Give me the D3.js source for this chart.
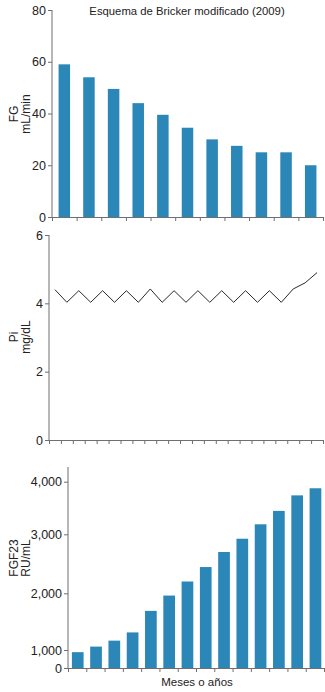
<!DOCTYPE html>
<html>
<head>
<meta charset="utf-8">
<script src="https://cdn.jsdelivr.net/npm/d3@7"></script>
<style>
  body { margin: 0; background: #fff; }
  svg text { font-family: "Liberation Sans", Arial, sans-serif; fill: #222; }
  .axis path, .axis line { stroke: #6f6f6f; }
</style>
</head>
<body>
<svg id="chart" width="325" height="692"></svg>
<script>
// FG panel
const fgValues = [59, 54, 49.5, 44, 39.5, 34.5, 30, 27.5, 25, 25, 20]
const fgTicks = [0, 20, 40, 60, 80]

// Pi panel (zigzag line)
const piValues = [4.4, 4.03, 4.37, 4.03, 4.37, 4.03, 4.37, 4.03, 4.42, 4.03, 4.37,
  4.03, 4.37, 4.03, 4.37, 4.03, 4.37, 4.03, 4.37, 4.03, 4.42, 4.6, 4.9]
const piTicks = [0, 2, 4, 6]

// FGF23 panel
const fgf23Values = [880, 1060, 1165, 1310, 1690, 1960, 2200, 2445, 2700, 2925, 3190, 3445, 3740, 3875]
const fgf23Ticks = [0, 1000, 2000, 3000, 4000]
const fgf23TickLabels = ['0', '1,000', '2,000', '3,000', '4,000']

const barColor = '#2b87b8'
const svg = d3.select('#chart')

svg.append('text')
  .attr('x', 187).attr('y', 15)
  .attr('text-anchor', 'middle')
  .style('font-size', '11.3px')
  .text('Esquema de Bricker modificado (2009)')

function yLabel(cy, a, b) {
  const g = svg.append('g')
  g.append('text')
    .attr('transform', `translate(18,${cy}) rotate(-90)`)
    .attr('text-anchor', 'middle')
    .style('font-size', '12px')
    .text(a)
  g.append('text')
    .attr('transform', `translate(29.5,${cy}) rotate(-90)`)
    .attr('text-anchor', 'middle')
    .style('font-size', '12px')
    .text(b)
}

function xAxis(n, x0, x1, yPos) {
  const s = d3.scaleLinear().domain([0, n]).range([x0, x1])
  svg.append('g')
    .attr('class', 'axis')
    .attr('transform', `translate(0,${yPos})`)
    .call(d3.axisBottom(s).tickValues(d3.range(n + 1)).tickFormat('').tickSize(4).tickSizeOuter(0))
  return s
}

function yAxis(scale, xPos, ticks, labels, top) {
  const g = svg.append('g')
    .attr('class', 'axis')
    .attr('transform', `translate(${xPos},0)`)
    .call(d3.axisLeft(scale).tickValues(ticks).tickSize(4).tickPadding(2).tickSizeOuter(0)
      .tickFormat((d, i) => labels ? labels[i] : d))
  g.select('.domain').remove()
  g.append('line')
    .attr('x1', 0).attr('x2', 0)
    .attr('y1', top).attr('y2', scale(0))
    .attr('stroke', '#6f6f6f')
  g.selectAll('text').style('font-size', '12.5px').attr('fill', '#222')
}

// ---- panel 1 : FG
const y1 = d3.scaleLinear().domain([0, 80]).range([217, 10])
const x1 = d3.scaleBand().domain(d3.range(fgValues.length)).range([52, 323])
const bw1 = 11.5
svg.append('g').selectAll('rect')
  .data(fgValues)
  .enter()
  .append('rect')
    .attr('x', (d, i) => x1(i) + (x1.bandwidth() - bw1) / 2)
    .attr('y', d => y1(d))
    .attr('width', bw1)
    .attr('height', d => y1(0) - y1(d))
    .style('fill', barColor)
xAxis(fgValues.length, 52, 323, 217)
yAxis(y1, 52, fgTicks, null, 10)
yLabel(114, 'FG', 'mL/min')

// ---- panel 2 : Pi
const y2 = d3.scaleLinear().domain([0, 6]).range([440, 235])
const x2 = d3.scaleBand().domain(d3.range(piValues.length)).range([49, 323])
svg.append('path')
  .datum(piValues)
  .attr('fill', 'none')
  .attr('stroke', '#2a2a2a')
  .attr('stroke-width', 1)
  .attr('d', d3.line()
    .x((d, i) => x2(i) + x2.bandwidth() / 2)
    .y(d => y2(d)))
xAxis(piValues.length, 49, 323, 440)
yAxis(y2, 49, piTicks, null, 235)
yLabel(337, 'Pi', 'mg/dL')

// ---- panel 3 : FGF23 (uneven axis spacing as in the source)
const y3 = d3.scaleLinear().domain([0, 1000, 2000, 3000, 4000]).range([668, 650, 593.3, 534.3, 481.7])
const x3 = d3.scaleBand().domain(d3.range(fgf23Values.length)).range([68, 324])
const bw3 = 11.7
svg.append('g').selectAll('rect')
  .data(fgf23Values)
  .enter()
  .append('rect')
    .attr('x', (d, i) => x3(i) + (x3.bandwidth() - bw3) / 2 + 0.6)
    .attr('y', d => y3(d))
    .attr('width', bw3)
    .attr('height', d => y3(0) - y3(d))
    .style('fill', barColor)
xAxis(fgf23Values.length, 68, 324, 668)
yAxis(y3, 68, fgf23Ticks, fgf23TickLabels, 467)
yLabel(558, 'FGF23', 'RU/mL')

svg.append('text')
  .attr('x', 197).attr('y', 686)
  .attr('text-anchor', 'middle')
  .style('font-size', '11.5px')
  .text('Meses o años')
</script>
</body>
</html>
